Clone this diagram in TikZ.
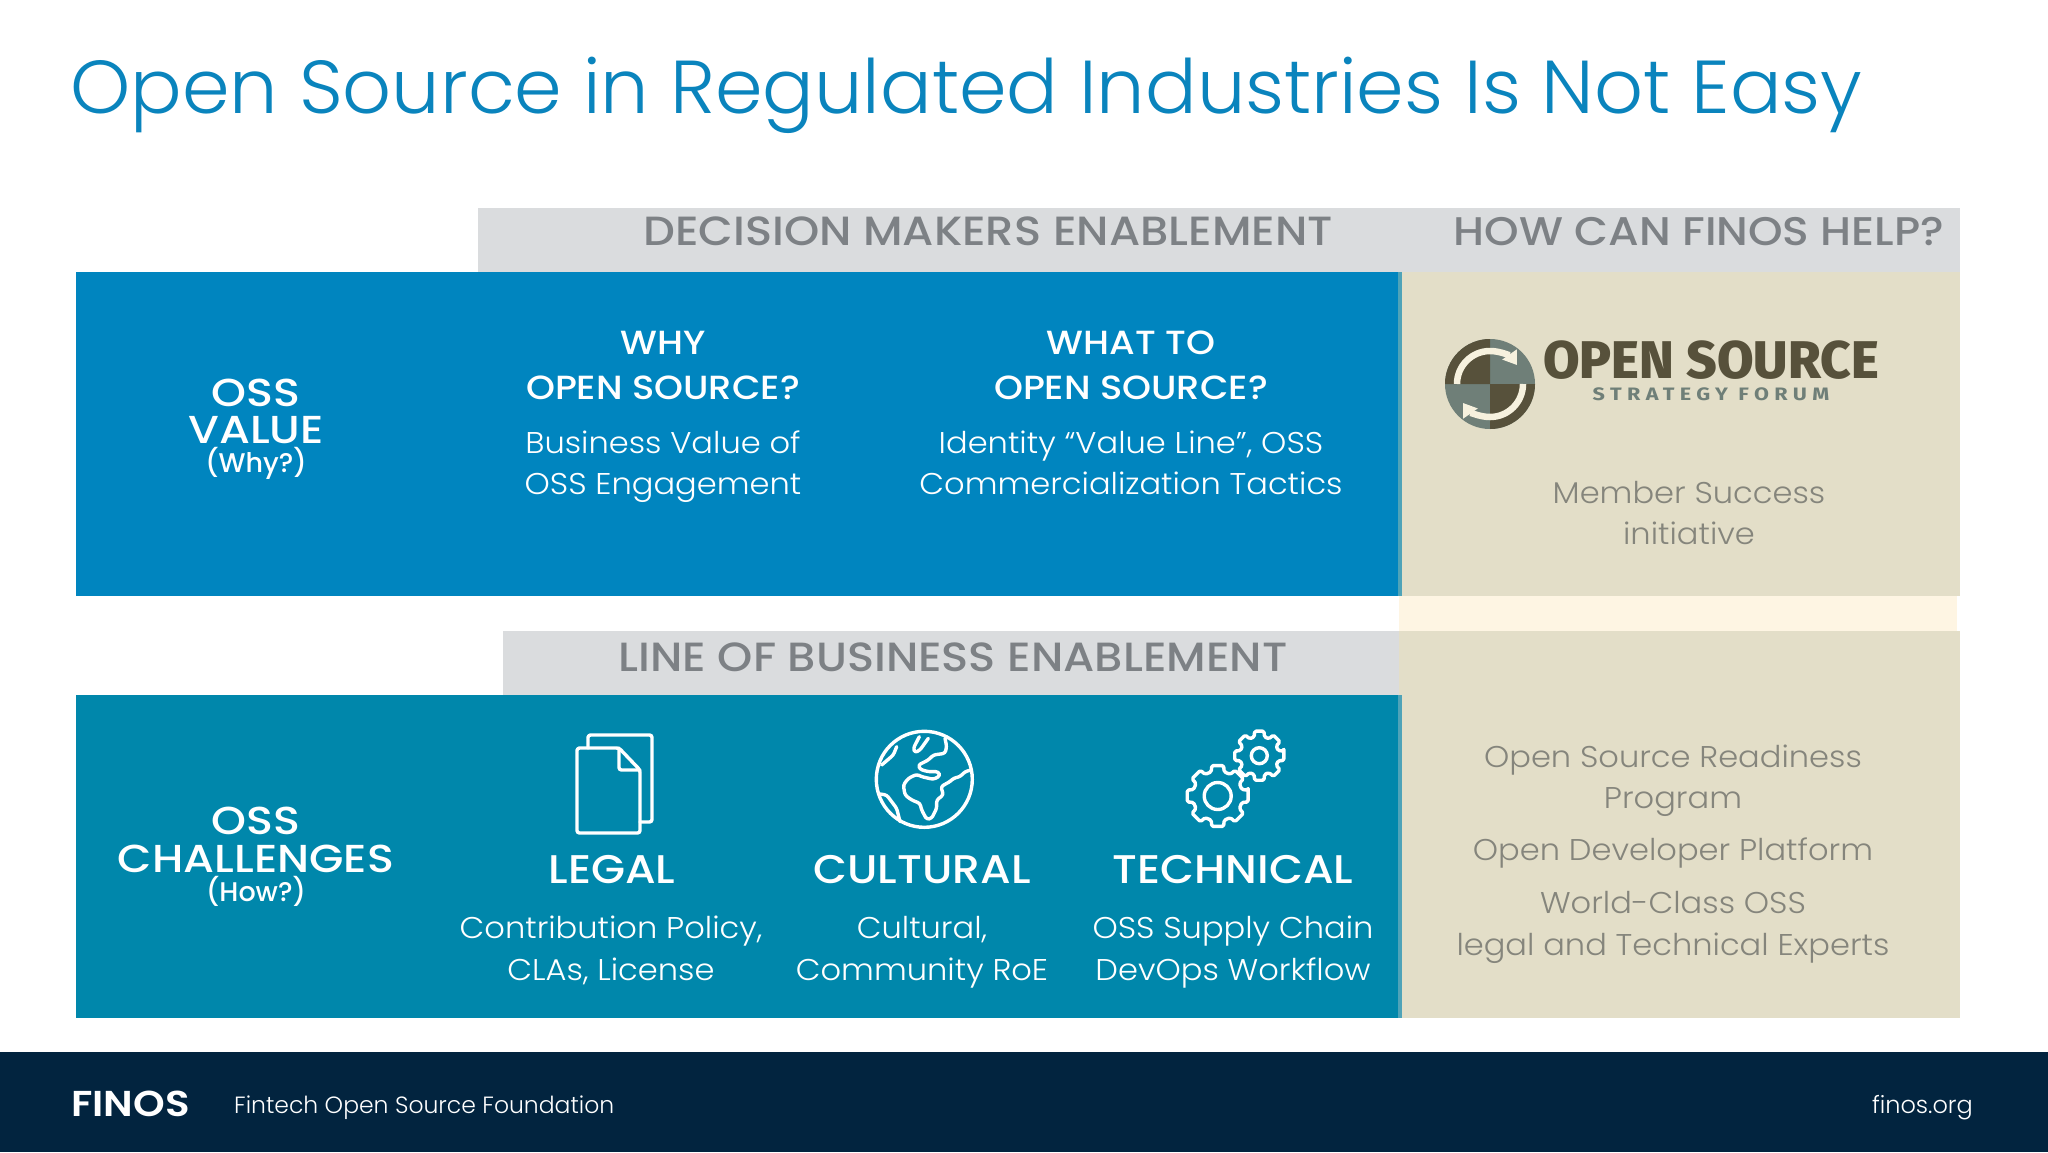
\documentclass[tikz,border=0pt]{standalone}
\usepackage{fontspec}
\setmainfont{Poppins}
\newfontfamily\titlefont[FakeStretch=1.02]{Poppins Light}
\newfontfamily\lightfont[FakeStretch=1.07]{Poppins Light}
\newfontfamily\footfont{Poppins Light}
\newfontfamily\headfont[FakeStretch=1.1]{Poppins Medium}
\newfontfamily\sidefont[FakeStretch=1.14]{Poppins Medium}
\newfontfamily\notefont{Poppins Medium}
\newfontfamily\markfont[FakeStretch=1.12]{Poppins SemiBold}
\newfontfamily\logofont{Fira Sans ExtraBold}
\newfontfamily\logosubfont[FakeStretch=1.2,LetterSpace=30]{Fira Sans}
\usetikzlibrary{arrows.meta}
\definecolor{titleblue}{HTML}{0A84BD}
\definecolor{valueblue}{HTML}{0085BF}
\definecolor{challteal}{HTML}{0087AB}
\definecolor{edgeteal}{HTML}{4FA3B8}
\definecolor{barbeige}{HTML}{E3DEC8}
\definecolor{gapcream}{HTML}{FEF5E3}
\definecolor{headgrey}{HTML}{DADCDE}
\definecolor{headtext}{HTML}{7D8185}
\definecolor{helptext}{HTML}{85857C}
\definecolor{footnavy}{HTML}{02243F}
\definecolor{logodark}{HTML}{57513B}
\definecolor{logogrey}{HTML}{6F7F78}
\definecolor{logocream}{HTML}{F6F1DE}
\tikzset{
  headlabel/.style={anchor=base,text=headtext,font=\headfont\fontsize{40.8}{40.8}\selectfont},
  sidelabel/.style={anchor=base,text=white,font=\sidefont\fontsize{39}{39}\selectfont},
  sidenote/.style={anchor=base,text=white,font=\notefont\fontsize{27}{27}\selectfont},
  toplabel/.style={anchor=base,text=white,font=\headfont\fontsize{33.5}{33.5}\selectfont},
  iconlabel/.style={anchor=base,text=white,font=\headfont\fontsize{40}{40}\selectfont},
  bodylabel/.style={anchor=base,text=white,font=\lightfont\fontsize{30}{30}\selectfont},
  helplabel/.style={anchor=base,text=helptext,font=\lightfont\fontsize{30}{30}\selectfont},
  iconline/.style={draw=white,line width=3.4pt,rounded corners=2.5pt,line cap=round,line join=round}
}
% one gear: centre x, centre y, tip radius, root radius, hole radius
\newcommand{\gearicon}[5]{
  \begin{scope}[shift={(#1,#2)}]
  \draw [iconline,rounded corners=1.5pt] (-11:#3)
    \foreach \k in {0,45,...,315} {
      -- (\k-11:#3) -- (\k+11:#3)
      -- (\k+15:#4) -- (\k+30:#4)
    } -- cycle;
  \draw [draw=white,line width=3.4pt] (0,0) circle (#5);
  \end{scope}
}
\begin{document}
\begin{tikzpicture}[x=1pt,y=-1pt]
\useasboundingbox (0,0) rectangle (2048,1152);
\fill [white] (0,0) rectangle (2048,1152);
\node [anchor=base west,inner sep=0pt,text=titleblue,font=\titlefont\fontsize{75}{75}\selectfont] (title) at (70,113) {Open Source in Regulated Industries Is Not Easy};
% header bars
\fill [headgrey] (478,208) rectangle (1960,272);
\fill [headgrey] (503,631) rectangle (1400,695);
% blocks
\fill [barbeige] (1401,272) rectangle (1960,596);
\fill [gapcream] (1399,596) rectangle (1957,631);
\fill [barbeige] (1399,631) rectangle (1960,1018);
\fill [valueblue] (76,272) rectangle (1398,596);
\fill [challteal] (76,695) rectangle (1398,1018);
\fill [edgeteal] (1398,272) rectangle (1402,596);
\fill [edgeteal] (1398,695) rectangle (1402,1018);
\fill [footnavy] (0,1052) rectangle (2048,1152);
% headers
\node [headlabel] (decisionhead) at (988,245) {DECISION MAKERS ENABLEMENT};
\node [headlabel,font=\headfont\fontsize{40}{40}\selectfont] (finoshead) at (1699,245) {HOW CAN FINOS HELP?};
\node [headlabel] (linehead) at (953,671) {LINE OF BUSINESS ENABLEMENT};
% value row
\node [sidelabel] (ossvalue) at (256,406) {OSS};
\node [sidelabel] (valueword) at (256,443) {VALUE};
\node [sidenote] (whynote) at (256,472) {(Why?)};
\node [toplabel] (whyline) at (663,354) {WHY};
\node [toplabel] (whyopen) at (663,399) {OPEN SOURCE?};
\node [bodylabel] (whybody) at (663,453) {Business Value of};
\node [bodylabel] (whybodyb) at (663,494) {OSS Engagement};
\node [toplabel] (whatline) at (1131,354) {WHAT TO};
\node [toplabel] (whatopen) at (1131,399) {OPEN SOURCE?};
\node [bodylabel] (whatbody) at (1131,453) {Identity “Value Line”, OSS};
\node [bodylabel] (whatbodyb) at (1131,494) {Commercialization Tactics};
% logo
\fill [logogrey] (1490,384) circle (45);
\fill [logodark] (1490,384) -- ++(-45,0) arc (-180:-90:45) -- cycle;
\fill [logodark] (1490,384) -- ++(45,0) arc (0:90:45) -- cycle;
\draw [logocream,line width=6.5pt,-{Triangle[length=13pt,width=17pt]}] (1457,384) arc (-180:-35:33);
\draw [logocream,line width=6.5pt,-{Triangle[length=13pt,width=17pt]}] (1523,384) arc (0:145:33);
\node [anchor=base,inner sep=0pt,text height=38pt,text depth=0pt,text=logodark,font=\logofont\fontsize{53}{53}\selectfont] (logotop) at (1711,378) {OPEN SOURCE};
\node [anchor=base,inner sep=0pt,text height=13pt,text depth=0pt,text=logogrey,font=\logosubfont\bfseries\fontsize{18}{18}\selectfont] (logosub) at (1711,400) {STRATEGY FORUM};
\node [helplabel] (memberline) at (1689,503) {Member Success};
\node [helplabel] (memberlineb) at (1689,544) {initiative};
% challenges row
\node [sidelabel] (osschall) at (256,834) {OSS};
\node [sidelabel] (challword) at (256,872) {CHALLENGES};
\node [sidenote] (hownote) at (256,901) {(How?)};
% legal icon
\draw [iconline] (577,748) -- (619,748) -- (640,770) -- (640,833) -- (577,833) -- cycle;
\draw [iconline] (619,748) -- (619,770) -- (640,770);
\draw [iconline] (588,748) -- (588,735) -- (652,735) -- (652,822) -- (640,822);
% globe icon
\draw [draw=white,line width=3.4pt] (924.3,779.3) circle (48);
\begin{scope}[shift={(865,720)},x=0.3333pt,y=-0.3333pt]
\draw [iconline] (163,50) -- (145,85) -- (150,98) -- (165,90) -- (190,55);
\draw [iconline] (240,55) -- (245,80) -- (240,100) -- (205,105) -- (190,120) -- (160,135) -- (165,148) -- (190,155) -- (220,155) -- (225,168) -- (205,178) -- (170,170) -- (155,163) -- (130,175) -- (115,195) -- (120,225) -- (140,240) -- (165,250) -- (170,270) -- (185,298) -- (200,295) -- (215,265) -- (215,240) -- (235,225) -- (228,200) -- (245,190) -- (255,185) -- (265,175) -- (285,170) -- (300,155) -- (318,150);
\draw [iconline] (95,80) -- (85,105) -- (50,135);
\draw [iconline] (45,222) -- (65,225) -- (95,265) -- (105,305);
\end{scope}
% technical icon
\gearicon{1217.7}{796}{31}{25}{13.5}
\gearicon{1259.3}{755.7}{25}{19.5}{8}
\node [iconlabel] (legalword) at (612,883) {LEGAL};
\node [bodylabel] (legalbody) at (611,938) {Contribution Policy,};
\node [bodylabel] (legalbodyb) at (611,980) {CLAs, License};
\node [iconlabel] (culturalword) at (922,883) {CULTURAL};
\node [bodylabel] (culturalbody) at (922,938) {Cultural,};
\node [bodylabel] (culturalbodyb) at (922,980) {Community RoE};
\node [iconlabel] (technicalword) at (1233,883) {TECHNICAL};
\node [bodylabel] (technicalbody) at (1233,938) {OSS Supply Chain};
\node [bodylabel] (technicalbodyb) at (1233,980) {DevOps Workflow};
% help column
\node [helplabel] (readyline) at (1673,767) {Open Source Readiness};
\node [helplabel] (readylineb) at (1673,808) {Program};
\node [helplabel] (platformline) at (1673,860) {Open Developer Platform};
\node [helplabel] (worldline) at (1673,913) {World-Class OSS};
\node [helplabel] (worldlineb) at (1673,955) {legal and Technical Experts};
% footer
\node [anchor=base west,inner sep=0pt,text=white,font=\markfont\fontsize{36}{36}\selectfont] (finosmark) at (71,1116) {FINOS};
\node [anchor=base west,inner sep=0pt,text=white,font=\footfont\fontsize{23.5}{23.5}\selectfont] (finosname) at (234,1113) {Fintech Open Source Foundation};
\node [anchor=base east,inner sep=0pt,text=white,font=\footfont\fontsize{24}{24}\selectfont] (finosurl) at (1973,1113) {finos.org};
\end{tikzpicture}
\end{document}
